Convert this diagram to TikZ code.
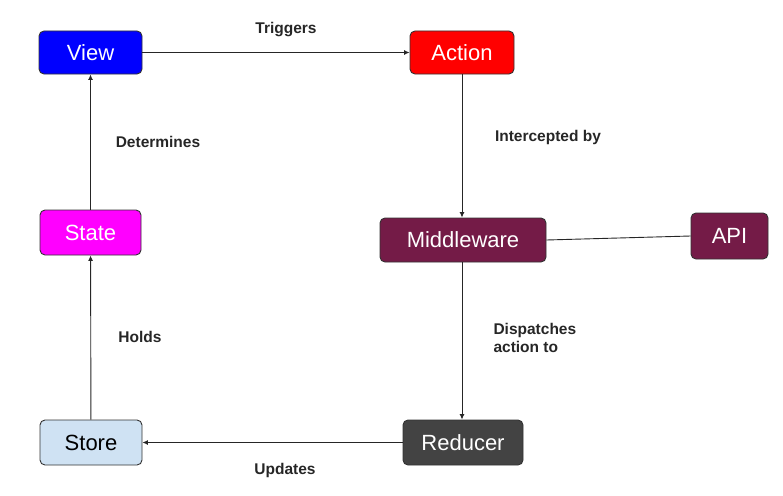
\documentclass[tikz,border=0pt]{standalone}
\usepackage{fontspec}
\setmainfont{Liberation Sans}
\usetikzlibrary{arrows.meta}
\definecolor{midc}{HTML}{741B47}
\definecolor{storec}{HTML}{CFE2F3}
\definecolor{redc}{HTML}{434343}
\definecolor{edgec}{HTML}{333333}
\definecolor{viewc}{HTML}{0000FF}
\definecolor{actionc}{HTML}{FF0000}
\definecolor{statec}{HTML}{FF00FF}
\tikzset{
  box/.style={draw=edgec, line width=0.9pt, rounded corners=5pt, inner sep=0pt, font=\fontsize{22}{24}\selectfont, text=white},
  conn/.style={draw=black!85, line width=0.9pt, -{Latex[length=5.5pt,width=5pt]}},
  lbl/.style={font=\fontsize{15.5}{18}\selectfont\bfseries, text=black!85, align=left}
}
\begin{document}
\begin{tikzpicture}[x=1pt,y=-1pt]
\useasboundingbox (0,0) rectangle (783,495);
\node[box, fill=viewc, minimum width=103pt, minimum height=43pt] (view) at (90.5,52.5) {View};
\node[box, fill=actionc, minimum width=104pt, minimum height=43pt] (action) at (462,52.5) {Action};
\node[box, fill=statec, minimum width=101pt, minimum height=45pt] (state) at (90.5,232.5) {State};
\node[box, fill=midc, minimum width=166pt, minimum height=44pt] (mid) at (463,240) {Middleware};
\node[box, fill=midc, minimum width=77pt, minimum height=46pt] (api) at (729.5,236) {API};
\node[box, fill=storec, text=black, minimum width=102pt, minimum height=45pt] (store) at (91,442.5) {Store};
\node[box, fill=redc, minimum width=120pt, minimum height=45pt] (red) at (463,442.5) {Reducer};

\draw[conn] (view) -- (action);
\draw[conn] (action.south -| 462,0) -- (mid.north -| 462,0);
\draw[conn] (mid.south -| 462,0) -- (red.north -| 462,0);
\draw[conn] (red) -- (store);
\draw[conn] (store) -- (state);
\draw[conn] (state) -- (view);
\draw[draw=black!85, line width=0.9pt] (mid.east) -- (api.west);

\node[lbl] (t1) at (286,30) {Triggers};
\node[lbl] (t2) at (158,142) {Determines};
\node[lbl] (t3) at (548,137) {Intercepted by};
\node[lbl] (t4) at (140,337) {Holds};
\node[lbl, anchor=west] (t5) at (490,338) {Dispatches\\action to};
\node[lbl] (t6) at (285,470) {Updates};
\end{tikzpicture}
\end{document}
